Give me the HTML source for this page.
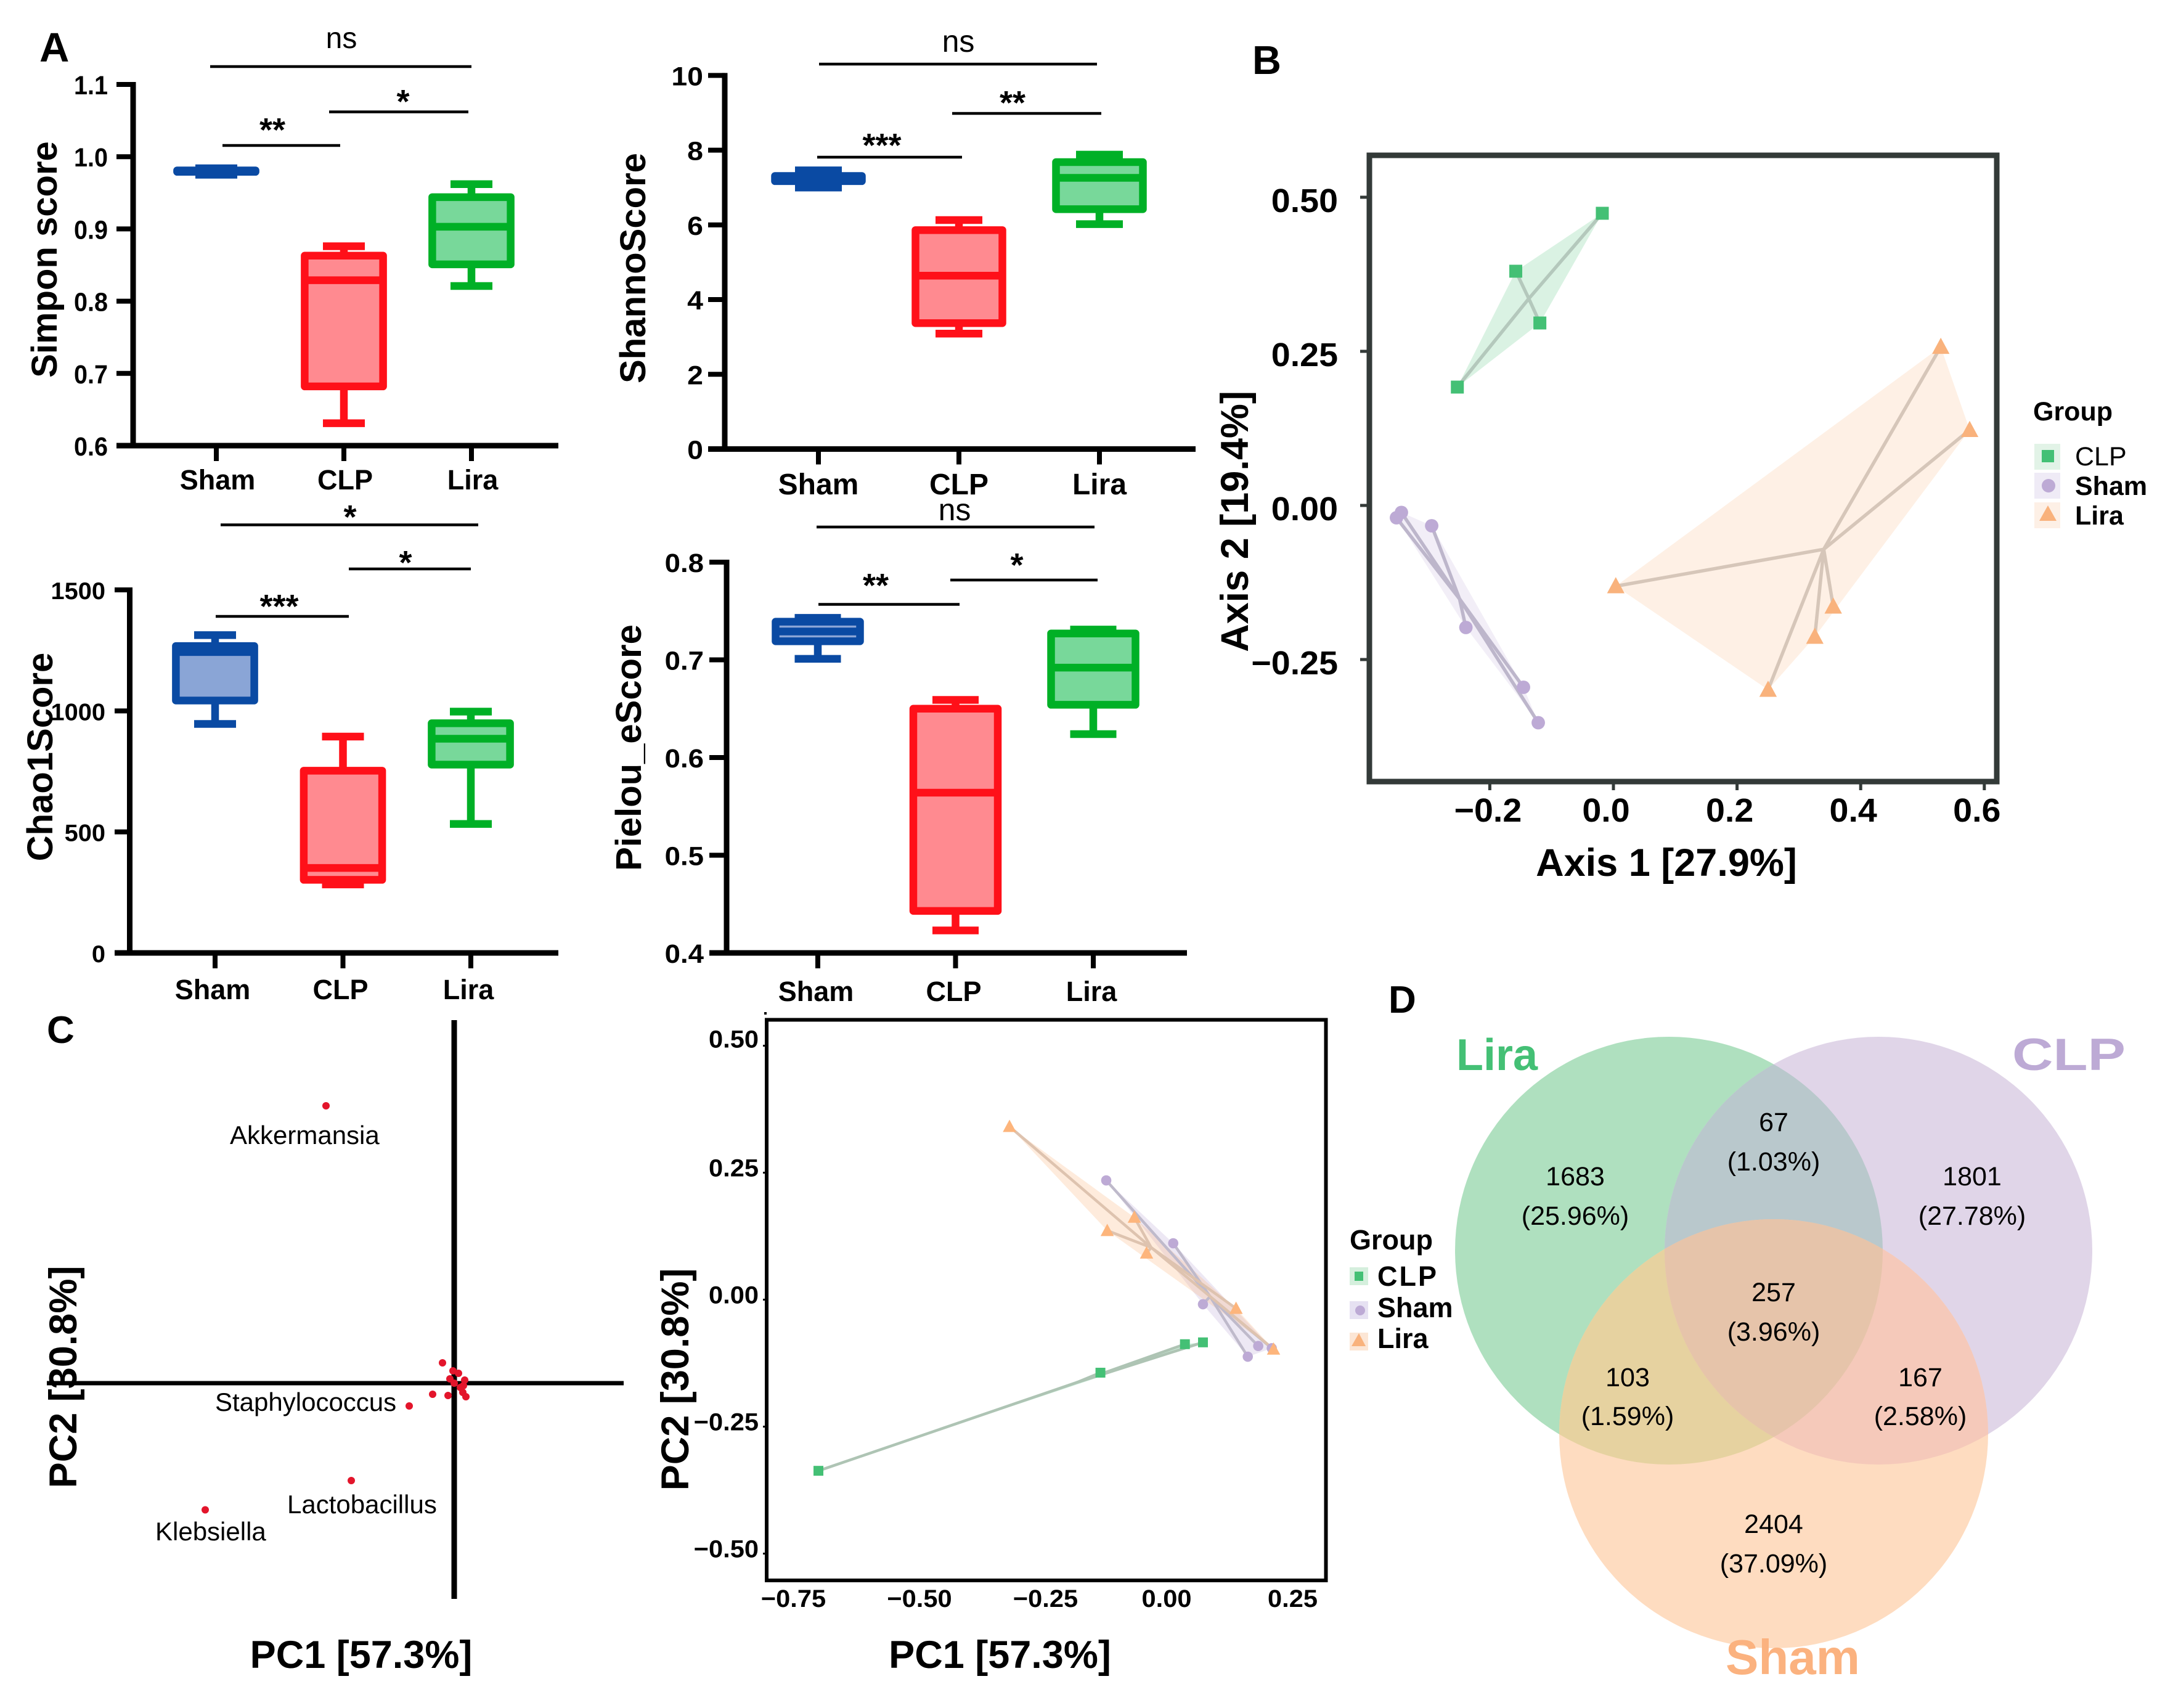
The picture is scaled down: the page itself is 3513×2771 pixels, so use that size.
<!DOCTYPE html>
<html lang="en">
<head>
<meta charset="utf-8">
<title>Microbiome diversity figure</title>
<style>
html,body{margin:0;padding:0;background:#fff;width:3513px;height:2771px;overflow:hidden}
svg{display:block}
text{font-family:"Liberation Sans",Arial,sans-serif}
.b{font-weight:700}
</style>
</head>
<body>
<svg id="figure" xmlns="http://www.w3.org/2000/svg" width="3513" height="2771" viewBox="0 0 3513 2771">
<defs>
<clipPath id="clipLira"><circle cx="2708" cy="2029" r="347"/></clipPath>
<clipPath id="clipClp"><circle cx="3048" cy="2029" r="347"/></clipPath>
<clipPath id="clipSham"><circle cx="2878" cy="2326" r="348"/></clipPath>
</defs>
<rect x="0" y="0" width="3513" height="2771" fill="#fff"/>

<text class="b" x="64" y="100" font-size="67">A</text>
<text class="b" x="2032" y="120" font-size="65">B</text>
<text class="b" x="76" y="1692" font-size="62">C</text>
<text class="b" x="2253" y="1643" font-size="62">D</text>

<g id="simpson"></g>
<g id="shannon"></g>
<g id="chao"></g>
<g id="pielou"></g>

<g stroke="#000" stroke-width="4.5">
<line x1="341" y1="108" x2="765" y2="108"/>
<line x1="361" y1="236" x2="552" y2="236"/>
<line x1="534" y1="181.5" x2="760" y2="181.5"/>
<text stroke="none" x="554" y="78" font-size="48" text-anchor="middle">ns</text>
<text stroke="none" class="b" x="442" y="229" font-size="54" text-anchor="middle">**</text>
<text stroke="none" class="b" x="654" y="183" font-size="54" text-anchor="middle">*</text>
</g>
<g stroke="#000" stroke-width="4.5">
<line x1="1329" y1="104" x2="1780" y2="104"/>
<line x1="1326" y1="255" x2="1561" y2="255"/>
<line x1="1545" y1="184" x2="1787" y2="184"/>
<text stroke="none" x="1555" y="84" font-size="50" text-anchor="middle">ns</text>
<text stroke="none" class="b" x="1431" y="254" font-size="54" text-anchor="middle">***</text>
<text stroke="none" class="b" x="1643" y="185" font-size="54" text-anchor="middle">**</text>
</g>
<g stroke="#000" stroke-width="4.5">
<line x1="358" y1="851.5" x2="776" y2="851.5"/>
<line x1="566" y1="923" x2="764" y2="923"/>
<line x1="350" y1="1000" x2="566" y2="1000"/>
<text stroke="none" class="b" x="568" y="857" font-size="54" text-anchor="middle">*</text>
<text stroke="none" class="b" x="658" y="931" font-size="54" text-anchor="middle">*</text>
<text stroke="none" class="b" x="453" y="1002" font-size="54" text-anchor="middle">***</text>
</g>
<g stroke="#000" stroke-width="4.5">
<line x1="1325" y1="855" x2="1776" y2="855"/>
<line x1="1328" y1="980.5" x2="1557" y2="980.5"/>
<line x1="1542" y1="941" x2="1781" y2="941"/>
<text stroke="none" x="1549" y="844" font-size="50" text-anchor="middle">ns</text>
<text stroke="none" class="b" x="1421" y="968" font-size="54" text-anchor="middle">**</text>
<text stroke="none" class="b" x="1650" y="935" font-size="54" text-anchor="middle">*</text>
</g>

<g id="pcoa"></g>
<g>
<text class="b" x="3299" y="682" font-size="43">Group</text>
<rect x="3301" y="720" width="42" height="42" fill="#e2f3e7"/>
<rect x="3313" y="730" width="20" height="20" fill="#44c075"/>
<rect x="3301" y="767" width="42" height="42" fill="#efebf6"/>
<circle cx="3324" cy="788" r="11" fill="#bdaad5"/>
<rect x="3301" y="815" width="42" height="42" fill="#fdf0e6"/>
<polygon points="3323,820 3337,845 3309,845" fill="#f9b27c"/>
<text x="3367" y="755" font-size="43">CLP</text>
<text class="b" x="3367" y="803" font-size="43">Sham</text>
<text class="b" x="3367" y="851" font-size="43">Lira</text>
</g>

<g id="loadings">
<rect x="732.5" y="1655" width="9" height="939" fill="#000"/>
<rect x="76" y="2240.5" width="936" height="7" fill="#000"/>
<text x="373" y="1856" font-size="42">Akkermansia</text>
<text x="349" y="2289" font-size="42">Staphylococcus</text>
<text x="466" y="2455" font-size="42">Lactobacillus</text>
<text x="252" y="2499" font-size="42">Klebsiella</text>
<text class="b" x="586" y="2706" font-size="63" text-anchor="middle">PC1 [57.3%]</text>
<text class="b" transform="translate(124,2234) rotate(-90)" font-size="63" text-anchor="middle">PC2 [30.8%]</text>
</g>

<g id="pca"></g>
<rect x="1240" y="1642" width="4" height="4" fill="#000"/>
<g>
<text class="b" x="2190" y="2027" font-size="45">Group</text>
<rect x="2190" y="2056" width="30" height="29" fill="#d5efdd"/>
<rect x="2198" y="2063" width="14" height="15" fill="#44c075"/>
<rect x="2190" y="2111" width="30" height="29" fill="#e6e1f2"/>
<circle cx="2207" cy="2126" r="8" fill="#bdaad5"/>
<rect x="2190" y="2162" width="30" height="29" fill="#fce6d5"/>
<polygon points="2205,2163 2216,2184 2193,2184" fill="#f9b27c"/>
<text class="b" x="2235" y="2086" font-size="45" letter-spacing="3">CLP</text>
<text class="b" x="2235" y="2137" font-size="45">Sham</text>
<text class="b" x="2235" y="2187" font-size="45">Lira</text>
</g>

<g>
<circle cx="2708" cy="2029" r="347" fill="#afe0bf"/>
<circle cx="3048" cy="2029" r="347" fill="#e0d5e8"/>
<circle cx="2878" cy="2326" r="348" fill="#fedcc0"/>
<g clip-path="url(#clipLira)">
<circle cx="3048" cy="2029" r="347" fill="#b9c8cc"/>
<circle cx="2878" cy="2326" r="348" fill="#e6d2a0"/>
</g>
<g clip-path="url(#clipClp)">
<circle cx="2878" cy="2326" r="348" fill="#f5c9ba"/>
</g>
<g clip-path="url(#clipLira)">
<g clip-path="url(#clipClp)">
<circle cx="2878" cy="2326" r="348" fill="#e6c4aa"/>
</g>
</g>
<text class="b" x="2363" y="1736" font-size="72" fill="#44c075">Lira</text>
<text class="b" transform="translate(3265,1736) scale(1.26,1)" font-size="73" fill="#bdaad5">CLP</text>
<text class="b" x="2800" y="2716" font-size="80" fill="#fbb27f">Sham</text>
<g font-size="43" text-anchor="middle">
<text x="2556" y="1923">1683</text>
<text x="2556" y="1987">(25.96%)</text>
<text x="2878" y="1835">67</text>
<text x="2878" y="1899">(1.03%)</text>
<text x="3200" y="1923">1801</text>
<text x="3200" y="1987">(27.78%)</text>
<text x="2878" y="2111">257</text>
<text x="2878" y="2175">(3.96%)</text>
<text x="2641" y="2249">103</text>
<text x="2641" y="2312">(1.59%)</text>
<text x="3116" y="2249">167</text>
<text x="3116" y="2312">(2.58%)</text>
<text x="2878" y="2487">2404</text>
<text x="2878" y="2551">(37.09%)</text>
</g>
</g>
</svg>

<script>
/* ---------- Panel A data: Sham, CLP, Lira ---------- */
const boxCategories = ['Sham', 'CLP', 'Lira'];

const simpsonTicks = [0.6, 0.7, 0.8, 0.9, 1.0, 1.1];
const simpsonLow = [0.975, 0.631, 0.821];
const simpsonQ1 = [0.979, 0.682, 0.851];
const simpsonMedian = [0.980, 0.829, 0.903];
const simpsonQ3 = [0.981, 0.863, 0.944];
const simpsonHigh = [0.984, 0.876, 0.962];

const shannonTicks = [0, 2, 4, 6, 8, 10];
const shannonLow = [7.0, 3.09, 6.02];
const shannonQ1 = [7.17, 3.37, 6.42];
const shannonMedian = [7.25, 4.64, 7.26];
const shannonQ3 = [7.31, 5.86, 7.68];
const shannonHigh = [7.46, 6.13, 7.88];

const chaoTicks = [0, 500, 1000, 1500];
const chaoLow = [946, 283, 533];
const chaoQ1 = [1043, 302, 778];
const chaoMedian = [1243, 351, 885];
const chaoQ3 = [1268, 753, 949];
const chaoHigh = [1313, 894, 997];

const pielouTicks = [0.4, 0.5, 0.6, 0.7, 0.8];
const pielouLow = [0.701, 0.423, 0.624];
const pielouQ1 = [0.719, 0.443, 0.654];
const pielouMedian = [0.729, 0.564, 0.692];
const pielouQ3 = [0.739, 0.650, 0.727];
const pielouHigh = [0.743, 0.659, 0.731];

/* ---------- Panel B data: PCoA ---------- */
const pcoaXTicks = [-0.2, 0.0, 0.2, 0.4, 0.6];
const pcoaYTicks = [-0.25, 0.0, 0.25, 0.5];
const pcoaClpX = [-0.018, -0.158, -0.119, -0.2525];
const pcoaClpY = [0.474, 0.380, 0.296, 0.192];
const pcoaShamX = [-0.343, -0.351, -0.294, -0.2387, -0.1455, -0.1216];
const pcoaShamY = [-0.0114, -0.020, -0.033, -0.198, -0.295, -0.3525];
const pcoaLiraX = [0.0038, 0.5296, 0.5763, 0.3556, 0.3258, 0.2502];
const pcoaLiraY = [-0.131, 0.2574, 0.1226, -0.164, -0.213, -0.299];

/* ---------- Panel C data: loadings ---------- */
const loadingX = [-0.208, -0.073, -0.167, -0.404, -0.019, -0.002, 0.007, -0.007, 0.017, 0.0, 0.015, 0.010, 0.014, 0.019, -0.035, -0.010];
const loadingY = [0.45, -0.037, -0.158, -0.2055, 0.033, 0.020, 0.016, 0.007, 0.005, 0.0, -0.004, -0.007, -0.015, -0.022, -0.018, -0.020];

/* ---------- Panel C data: PCA ---------- */
const pcaXTicks = [-0.75, -0.5, -0.25, 0.0, 0.25];
const pcaYTicks = [-0.5, -0.25, 0.0, 0.25, 0.5];
const pcaClpX = [-0.6907, -0.1313, 0.0363, 0.0721];
const pcaClpY = [-0.337, -0.1438, -0.0877, -0.0841];
const pcaShamX = [-0.1198, 0.0131, 0.0721, 0.161, 0.1817, 0.2086];
const pcaShamY = [0.2348, 0.111, -0.0091, -0.1123, -0.0913, -0.0957];
const pcaLiraX = [-0.3117, -0.1178, -0.064, -0.0398, 0.1377, 0.2121];
const pcaLiraY = [0.3408, 0.1359, 0.162, 0.0916, -0.0174, -0.0976];

/* ---------- helpers ---------- */
const NS = 'http://www.w3.org/2000/svg';

function shape(parent, tag, name, attrs) {
  const node = document.createElementNS(NS, tag);
  for (const key in attrs) node.setAttribute(key, attrs[key]);
  
  
  parent.appendChild(node);
  return node;
}

function label(parent, name, str, x, y, size, opts) {
  const o = opts || {};
  const node = document.createElementNS(NS, 'text');
  node.textContent = str;
  node.setAttribute('font-size', size);
  node.setAttribute('text-anchor', o.anchor || 'middle');
  node.setAttribute('font-weight', o.regular ? '400' : '700');
  node.setAttribute('transform', 'translate(' + x + ',' + y + ') rotate(' + (o.rot || 0) + ') scale(' + (o.sx || 1) + ',1)');
  
  
  parent.appendChild(node);
  return node;
}

function linear(d0, d1, r0, r1) {
  return function (v) { return r0 + (v - d0) * (r1 - r0) / (d1 - d0); };
}

function mean(a) { return a.reduce(function (s, v) { return s + v; }, 0) / a.length; }

function convexHull(pts) {
  const p = pts.slice().sort(function (a, b) { return a[0] - b[0] || a[1] - b[1]; });
  const cross = function (o, a, b) { return (a[0] - o[0]) * (b[1] - o[1]) - (a[1] - o[1]) * (b[0] - o[0]); };
  const lower = [], upper = [];
  p.forEach(function (q) {
    while (lower.length > 1 && cross(lower[lower.length - 2], lower[lower.length - 1], q) <= 0) lower.pop();
    lower.push(q);
  });
  p.slice().reverse().forEach(function (q) {
    while (upper.length > 1 && cross(upper[upper.length - 2], upper[upper.length - 1], q) <= 0) upper.pop();
    upper.push(q);
  });
  return lower.slice(0, -1).concat(upper.slice(0, -1));
}

const boxStrokes = ['#0a4aa3', '#ff1019', '#00b026'];
const boxFills = ['#8aa5d6', '#ff8a90', '#78d89a'];

function boxPanel(c) {
  const g = document.getElementById(c.id);
  const y = linear(c.domain[0], c.domain[1], c.yBottom, c.yTop);
  const xCat = function (i) { return c.x0 + i * c.step; };

  c.ticks.forEach(function (t) {
    shape(g, 'line', c.id + '-y-tick', { x1: c.tickLeft, x2: c.axisX, y1: y(t), y2: y(t), stroke: '#000', 'stroke-width': 8 });
    label(g, c.id + '-y-tick-label', t.toFixed(c.digits), c.labelRight, y(t) + c.labelDy, c.tickSize, { anchor: 'end', sx: c.tickSx });
  });
  shape(g, 'line', c.id + '-y-axis', { x1: c.axisX, x2: c.axisX, y1: c.yTop - 4, y2: c.yBottom + 4, stroke: '#000', 'stroke-width': 9 });
  shape(g, 'line', c.id + '-x-axis', { x1: c.tickLeft, x2: c.xEnd, y1: c.yBottom, y2: c.yBottom, stroke: '#000', 'stroke-width': 9 });

  boxCategories.forEach(function (cat, i) {
    const cx = xCat(i);
    const key = c.id + '-' + cat.toLowerCase();
    shape(g, 'line', key + '-x-tick', { x1: cx, x2: cx, y1: c.yBottom, y2: c.yBottom + 25, stroke: '#000', 'stroke-width': 8 });
    label(g, key + '-x-label', cat, cx + c.catLabelDx, c.catBaseline, c.catSize);

    const stroke = boxStrokes[i];
    const sw = 12.5;
    shape(g, 'line', key + '-whisker-upper', { x1: cx, x2: cx, y1: y(c.high[i]), y2: y(c.q3[i]), stroke: stroke, 'stroke-width': 12.5 });
    shape(g, 'line', key + '-whisker-lower', { x1: cx, x2: cx, y1: y(c.q1[i]), y2: y(c.low[i]), stroke: stroke, 'stroke-width': 12.5 });
    shape(g, 'line', key + '-cap-upper', { x1: cx - c.capHalf, x2: cx + c.capHalf, y1: y(c.high[i]), y2: y(c.high[i]), stroke: stroke, 'stroke-width': 12.5 });
    shape(g, 'line', key + '-cap-lower', { x1: cx - c.capHalf, x2: cx + c.capHalf, y1: y(c.low[i]), y2: y(c.low[i]), stroke: stroke, 'stroke-width': 12.5 });
    shape(g, 'rect', key + '-box', {
      x: cx - c.boxHalf, y: y(c.q3[i]), width: 2 * c.boxHalf, height: y(c.q1[i]) - y(c.q3[i]),
      fill: boxFills[i], stroke: stroke, 'stroke-width': sw, 'stroke-linejoin': 'round'
    });
    shape(g, 'line', key + '-median', { x1: cx - c.boxHalf, x2: cx + c.boxHalf, y1: y(c.median[i]), y2: y(c.median[i]), stroke: stroke, 'stroke-width': 12.5 });
  });

  label(g, c.id + '-y-axis-title', c.title, c.titleX, c.titleY, 58, { rot: -90 });
}

function ordinationGroup(g, key, xs, ys, x, y, cfg) {
  const pts = xs.map(function (v, i) { return [x(v), y(ys[i])]; });
  const hull = convexHull(pts).map(function (p) { return p.join(','); }).join(' ');
  shape(g, 'polygon', key + '-hull', { points: hull, fill: cfg.color, 'fill-opacity': cfg.hullAlpha });
  return pts;
}

function ordinationSpider(g, key, pts, cfg) {
  const cx = mean(pts.map(function (p) { return p[0]; }));
  const cy = mean(pts.map(function (p) { return p[1]; }));
  pts.forEach(function (p) {
    shape(g, 'line', key + '-spider', { x1: cx, y1: cy, x2: p[0], y2: p[1], stroke: cfg.lineColor, 'stroke-width': cfg.lineWidth });
  });
}

function ordinationMarkers(g, key, pts, cfg) {
  pts.forEach(function (p) {
    const s = cfg.markerSize;
    if (cfg.kind === 'square') {
      shape(g, 'rect', key + '-point', { x: p[0] - s / 2, y: p[1] - s / 2, width: s, height: s, fill: cfg.color });
    } else if (cfg.kind === 'circle') {
      shape(g, 'circle', key + '-point', { cx: p[0], cy: p[1], r: s * 0.52, fill: cfg.color });
    } else {
      const w = s * 1.35, up = s * 0.7, dn = s * 0.55;
      shape(g, 'polygon', key + '-point', {
        points: p[0] + ',' + (p[1] - up) + ' ' + (p[0] + w / 2) + ',' + (p[1] + dn) + ' ' + (p[0] - w / 2) + ',' + (p[1] + dn),
        fill: cfg.color
      });
    }
  });
}

function ordinationPanel(g, prefix, groups, x, y, cfg) {
  const all = groups.map(function (gr) {
    const style = { color: gr.color, kind: gr.kind, lineColor: gr.lineColor, hullAlpha: cfg.hullAlpha, lineWidth: cfg.lineWidth, markerSize: cfg.markerSize };
    return { key: prefix + '-' + gr.name, style: style, pts: ordinationGroup(g, prefix + '-' + gr.name, gr.xs, gr.ys, x, y, style) };
  });
  all.forEach(function (a) { ordinationSpider(g, a.key, a.pts, a.style); });
  all.forEach(function (a) { ordinationMarkers(g, a.key, a.pts, a.style); });
}

function signedLabel(v, digits) {
  return (v < 0 ? '\u2212' : '') + Math.abs(v).toFixed(digits);
}

/* ---------- draw panel A ---------- */
boxPanel({ id: 'simpson', title: 'Simpon score', titleX: 92, titleY: 421, domain: [0.6, 1.1], yBottom: 723, yTop: 137, ticks: simpsonTicks, digits: 1,
  low: simpsonLow, q1: simpsonQ1, median: simpsonMedian, q3: simpsonQ3, high: simpsonHigh,
  axisX: 216, tickLeft: 189, xEnd: 906, x0: 351, step: 207, boxHalf: 63.6, capHalf: 34,
  labelRight: 175, labelDy: 16, tickSize: 43, tickSx: 0.92, catLabelDx: 2, catBaseline: 794, catSize: 45 });

boxPanel({ id: 'shannon', title: 'ShannoScore', titleX: 1047, titleY: 435, domain: [0, 10], yBottom: 728.5, yTop: 122.4, ticks: shannonTicks, digits: 0,
  low: shannonLow, q1: shannonQ1, median: shannonMedian, q3: shannonQ3, high: shannonHigh,
  axisX: 1176, tickLeft: 1149, xEnd: 1940, x0: 1328, step: 228, boxHalf: 70.5, capHalf: 38,
  labelRight: 1141, labelDy: 16, tickSize: 43, tickSx: 1.08, catLabelDx: 0, catBaseline: 802, catSize: 48 });

boxPanel({ id: 'chao', title: 'Chao1Score', titleX: 85, titleY: 1228, domain: [0, 1500], yBottom: 1546, yTop: 957, ticks: chaoTicks, digits: 0,
  low: chaoLow, q1: chaoQ1, median: chaoMedian, q3: chaoQ3, high: chaoHigh,
  axisX: 210.5, tickLeft: 186, xEnd: 906, x0: 349, step: 207.5, boxHalf: 63.6, capHalf: 34,
  labelRight: 171, labelDy: 15, tickSize: 39, tickSx: 1.02, catLabelDx: -4, catBaseline: 1621, catSize: 45 });

boxPanel({ id: 'pielou', title: 'Pielou_eScore', titleX: 1040, titleY: 1213, domain: [0.4, 0.8], yBottom: 1546, yTop: 912, ticks: pielouTicks, digits: 1,
  low: pielouLow, q1: pielouQ1, median: pielouMedian, q3: pielouQ3, high: pielouHigh,
  axisX: 1179, tickLeft: 1151, xEnd: 1926, x0: 1327, step: 223.5, boxHalf: 68.5, capHalf: 37.5,
  labelRight: 1142, labelDy: 16, tickSize: 43, tickSx: 1.06, catLabelDx: -3, catBaseline: 1624, catSize: 45 });

/* ---------- draw panel B ---------- */
(function () {
  const g = document.getElementById('pcoa');
  const x = linear(0, 0.6, 2618, 3219.8);
  const y = linear(0, 0.5, 820, 320);
  ordinationPanel(g, 'pcoa', [
    { name: 'clp', kind: 'square', color: '#44c075', lineColor: '#b4c8bc', xs: pcoaClpX, ys: pcoaClpY },
    { name: 'sham', kind: 'circle', color: '#bdaad5', lineColor: '#bdb6cb', xs: pcoaShamX, ys: pcoaShamY },
    { name: 'lira', kind: 'triangle', color: '#f9b27c', lineColor: '#d6c6b9', xs: pcoaLiraX, ys: pcoaLiraY }
  ], x, y, { hullAlpha: 0.2, lineWidth: 5.5, markerSize: 21 });
  pcoaXTicks.forEach(function (t) {
    shape(g, 'line', 'pcoa-x-tick', { x1: x(t), x2: x(t), y1: 1268, y2: 1282, stroke: '#333a38', 'stroke-width': 5 });
    label(g, 'pcoa-x-tick-label', signedLabel(t, 1), x(t) + (t < 0 ? -3 : -12), 1333, 54, { sx: 1.03 });
  });
  pcoaYTicks.forEach(function (t) {
    shape(g, 'line', 'pcoa-y-tick', { x1: 2207, x2: 2222, y1: y(t), y2: y(t), stroke: '#333a38', 'stroke-width': 5 });
    label(g, 'pcoa-y-tick-label', signedLabel(t, 2), 2171, y(t) + 24, 54, { anchor: 'end', sx: 1.03 });
  });
  shape(g, 'rect', 'pcoa-plot-frame', { x: 2222, y: 252, width: 1018, height: 1016, fill: 'none', stroke: '#333a38', 'stroke-width': 9 });
  label(g, 'pcoa-x-axis-title', 'Axis 1 [27.9%]', 2704, 1421, 63);
  label(g, 'pcoa-y-axis-title', 'Axis 2 [19.4%]', 2025, 846, 63, { rot: -90 });
})();

/* ---------- draw panel C loadings ---------- */
(function () {
  const g = document.getElementById('loadings');
  const x = linear(0, 1, 737, 1737);
  const y = linear(0, 1, 2244, 1244);
  loadingX.forEach(function (v, i) {
    shape(g, 'circle', 'loading-point', { cx: x(v), cy: y(loadingY[i]), r: 6, fill: '#e3152b' });
  });
})();

/* ---------- draw panel C PCA ---------- */
(function () {
  const g = document.getElementById('pca');
  const x = linear(0, 0.25, 1893, 2097.5);
  const y = linear(0, 0.25, 2108.5, 1902.5);
  ordinationPanel(g, 'pca', [
    { name: 'clp', kind: 'square', color: '#44c075', lineColor: '#aec4b4', xs: pcaClpX, ys: pcaClpY },
    { name: 'sham', kind: 'circle', color: '#bdaad5', lineColor: '#bfbacb', xs: pcaShamX, ys: pcaShamY },
    { name: 'lira', kind: 'triangle', color: '#fdb57c', lineColor: '#dec3af', xs: pcaLiraX, ys: pcaLiraY }
  ], x, y, { hullAlpha: 0.27, lineWidth: 4.5, markerSize: 16 });
  pcaXTicks.forEach(function (t) {
    label(g, 'pca-x-tick-label', signedLabel(t, 2), x(t) + (t < 0 ? 8 : 0), 2607, 40, { sx: 1.04 });
  });
  pcaYTicks.forEach(function (t) {
    shape(g, 'line', 'pca-y-tick', { x1: 1238, x2: 1244, y1: y(t), y2: y(t), stroke: '#000', 'stroke-width': 3 });
    label(g, 'pca-y-tick-label', signedLabel(t, 2), 1231, y(t) + (t === 0.5 ? 3 : 6), 40, { anchor: 'end', sx: 1.04 });
  });
  shape(g, 'rect', 'pca-plot-frame', { x: 1244, y: 1654.5, width: 907.5, height: 909.5, fill: 'none', stroke: '#000', 'stroke-width': 6 });
  label(g, 'pca-x-axis-title', 'PC1 [57.3%]', 1622.5, 2706, 63);
  label(g, 'pca-y-axis-title', 'PC2 [30.8%]', 1117, 2238, 63, { rot: -90 });
})();
</script>
</body>
</html>
